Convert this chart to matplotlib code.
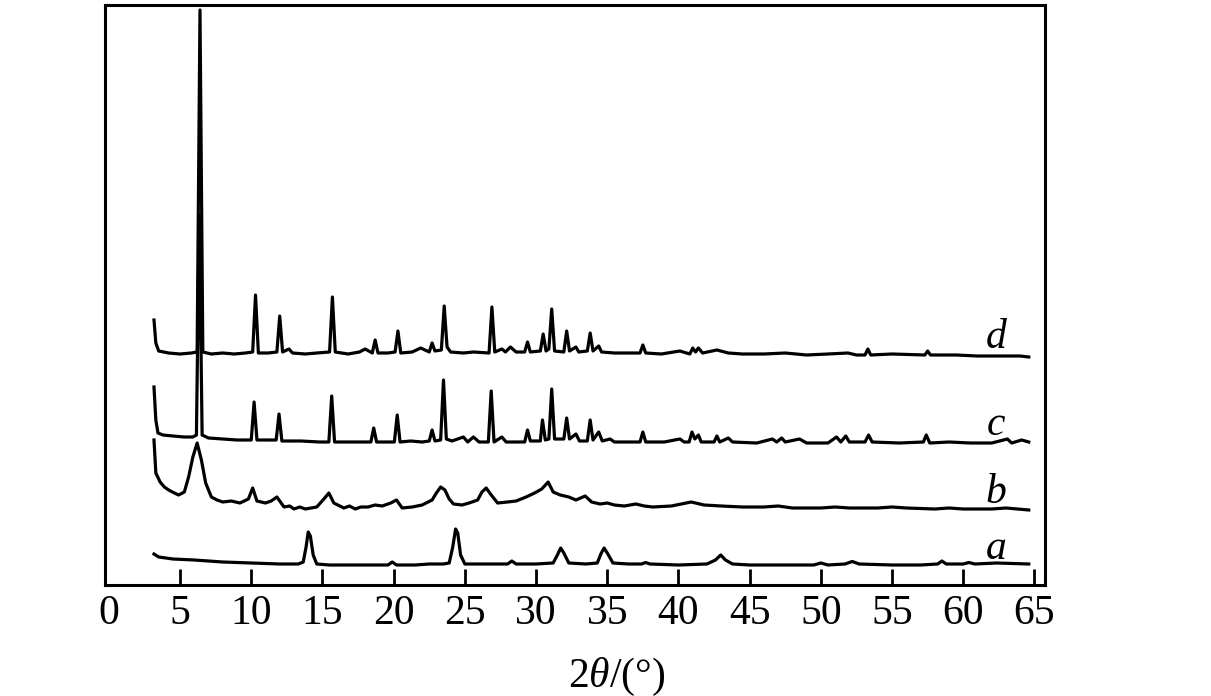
import numpy as np
import matplotlib
matplotlib.use('Agg')
import matplotlib.pyplot as plt

# 2theta (deg) and relative intensity (arbitrary units)
d_x = [3.17, 3.3, 3.5, 4.2, 5.0, 5.8, 6.2, 6.4, 6.6, 7.2, 8.0, 8.8, 9.6, 10.1, 10.3, 10.5,
       11.2, 11.8, 12.0, 12.2, 12.65, 12.9, 13.8, 14.6, 15.5, 15.7, 15.9, 16.8, 17.6, 18.0,
       18.5, 18.7, 18.9, 19.6, 20.1, 20.3, 20.5, 21.3, 21.9, 22.5, 22.7, 22.9, 23.35, 23.55,
       23.75, 24.0, 24.9, 25.6, 26.7, 26.9, 27.1, 27.6, 27.85, 28.2, 28.6, 29.2, 29.4, 29.6,
       30.3, 30.5, 30.7, 30.9, 31.1, 31.3, 31.95, 32.15, 32.35, 32.8, 33.0, 33.6, 33.8, 34.0,
       34.4, 34.6, 35.5, 36.5, 37.3, 37.5, 37.7, 38.8, 40.1, 40.8, 41.0, 41.2, 41.4, 41.7,
       42.7, 43.5, 44.5, 46.0, 47.5, 49.0, 50.5, 51.9, 52.5, 53.1, 53.3, 53.5, 55.0, 57.3, 57.5,
       57.7, 59.5, 61.0, 62.5, 64.0, 64.6]
d_y = [265, 242, 234, 232, 231, 232, 233, 575, 233, 231, 232, 231, 232, 233, 290, 232,
       232, 233, 269, 233, 236, 232, 231, 232, 233, 288, 233, 231, 233, 236,
       232, 245, 232, 232, 233, 254, 232, 233, 237, 233, 242, 234, 235, 279,
       238, 233, 232, 233, 232, 278, 233, 236, 233, 238, 233, 233, 243, 233,
       234, 251, 234, 236, 276, 234, 233, 254, 234, 238, 233, 234, 252, 234,
       239, 233, 232, 232, 232, 240, 232, 231, 234, 231, 237, 233, 237, 232,
       235, 232, 231, 231, 232, 230, 231, 232, 230, 230, 236, 230, 231, 230, 234,
       230, 230, 229, 229, 229, 228]

c_x = [3.17, 3.3, 3.45, 3.8, 4.5, 5.3, 5.9, 6.15, 6.35, 6.55, 7.0, 8.0, 9.0, 10.0, 10.2, 10.4,
       11.2, 11.75, 11.95, 12.15, 13.5, 14.8, 15.45, 15.65, 15.85, 16.7, 17.5, 18.4, 18.6, 18.8,
       19.6, 20.05, 20.25, 20.45, 21.2, 22.0, 22.5, 22.7, 22.9, 23.3, 23.5, 23.7, 24.1, 24.9,
       25.2, 25.6, 26.0, 26.65, 26.85, 27.05, 27.6, 27.9, 29.2, 29.4, 29.6, 30.3, 30.45, 30.65,
       30.9, 31.1, 31.3, 31.95, 32.15, 32.35, 32.8, 33.05, 33.6, 33.8, 34.0, 34.4, 34.65, 35.2,
       35.5, 37.3, 37.5, 37.7, 39.0, 40.1, 40.4, 40.75, 40.95, 41.15, 41.4, 41.6, 42.5, 42.7,
       42.9, 43.5, 43.8, 45.5, 46.6, 46.9, 47.25, 47.5, 48.5, 49.0, 50.5, 51.1, 51.4, 51.75,
       52.0, 53.1, 53.35, 53.6, 55.5, 57.2, 57.4, 57.65, 59.0, 60.5, 62.0, 63.1, 63.4, 64.1, 64.6]
c_y = [198, 165, 152, 150, 149, 148, 148, 150, 370, 150, 147, 146, 145, 145, 183, 145,
       145, 145, 171, 144, 144, 143, 143, 189, 143, 143, 143, 143, 157, 143,
       143, 143, 170, 143, 144, 143, 144, 155, 144, 145, 205, 146, 144, 148,
       143, 148, 143, 143, 194, 143, 148, 143, 143, 155, 144, 144, 165, 145,
       146, 196, 146, 146, 167, 146, 151, 144, 144, 165, 145, 153, 144, 146,
       143, 143, 153, 143, 143, 146, 143, 143, 153, 146, 150, 143, 143, 149,
       143, 147, 143, 142, 146, 143, 147, 143, 146, 142, 142, 148, 143, 149,
       143, 143, 150, 143, 142, 143, 150, 142, 143, 142, 142, 146, 142, 145, 143]

b_x = [3.17, 3.3, 3.6, 3.9, 4.2, 4.6, 4.9, 5.3, 5.6, 5.9, 6.2, 6.5, 6.8, 7.2, 7.6, 8.0, 8.6,
       9.2, 9.8, 10.1, 10.4, 11.0, 11.4, 11.8, 12.3, 12.7, 13.0, 13.4, 13.8, 14.2, 14.6, 15.1,
       15.45, 15.8, 16.5, 16.9, 17.3, 17.7, 18.2, 18.7, 19.2, 19.8, 20.2, 20.6, 21.3, 22.0,
       22.7, 23.0, 23.3, 23.6, 23.9, 24.2, 24.8, 25.3, 25.9, 26.2, 26.5, 26.8, 27.3, 28.0,
       28.6, 29.3, 29.9, 30.4, 30.85, 31.2, 31.7, 32.3, 32.8, 33.45, 33.9, 34.5, 35.0, 35.5,
       36.2, 37.0, 37.6, 38.2, 39.5, 40.2, 40.9, 41.8, 43.0, 44.5, 46.0, 47.0, 48.0, 50.0,
       51.0, 52.0, 54.0, 55.0, 56.0, 58.0, 59.0, 60.0, 62.0, 63.0, 64.6]
b_y = [145, 112, 103, 98, 95, 92, 90, 93, 108, 128, 142, 125, 102, 88, 85, 83, 84,
       82, 86, 97, 84, 82, 84, 88, 78, 79, 76, 78, 76, 77, 78, 86,
       92, 82, 77, 79, 76, 78, 78, 80, 79, 82, 85, 77, 78, 80,
       85, 92, 98, 95, 86, 81, 80, 82, 85, 93, 97, 91, 82, 83,
       84, 88, 92, 96, 103, 93, 90, 88, 85, 89, 83, 81, 82, 80,
       79, 81, 79, 78, 79, 81, 83, 80, 79, 78, 78, 79, 77, 77,
       78, 77, 77, 78, 77, 76, 77, 76, 76, 77, 75]

a_x = [3.17, 3.5, 4.5, 6.0, 8.0, 10.0, 12.0, 13.3, 13.65, 13.85, 14.0, 14.15, 14.35, 14.6,
       15.5, 17.0, 19.6, 19.9, 20.2, 21.5, 22.5, 23.5, 23.9, 24.15, 24.35, 24.5, 24.7, 25.0,
       26.0, 28.0, 28.3, 28.6, 30.0, 31.2, 31.5, 31.73, 31.95, 32.3, 33.5, 34.3, 34.55, 34.78,
       35.0, 35.4, 36.5, 37.4, 37.7, 38.0, 40.0, 42.0, 42.6, 42.97, 43.3, 43.8, 45.0, 47.0,
       49.5, 50.0, 50.5, 51.7, 52.2, 52.7, 55.0, 57.0, 58.2, 58.5, 58.8, 60.0, 60.4, 60.8,
       62.35, 64.6]
a_y = [31, 28, 26, 25, 23, 22, 21, 21, 23, 38, 53, 49, 30, 21,
       20, 20, 20, 23, 20, 20, 21, 21, 22, 38, 56, 52, 30, 21,
       21, 21, 24, 21, 21, 22, 30, 37, 32, 22, 21, 22, 31, 37,
       32, 22, 21, 21, 22.5, 21, 20, 21, 25, 30, 25, 21, 20, 20,
       20, 22, 20, 21, 23.5, 21, 20, 20, 21, 24, 21, 21, 22.5, 21,
       22, 21]

labels = ['a', 'b', 'c', 'd']
label_y = [26, 82, 150, 237]
xticks = list(range(0, 70, 5))
tick_marks = list(range(5, 70, 5))

plt.rcParams['font.family'] = ['Liberation Serif', 'DejaVu Serif']
plt.rcParams['mathtext.fontset'] = 'custom'
plt.rcParams['mathtext.rm'] = 'Liberation Serif'
plt.rcParams['mathtext.it'] = 'Liberation Serif:italic'

fig = plt.figure(figsize=(12.11, 6.96), dpi=100)
ax = fig.add_axes([105 / 1211, 111 / 696, 940 / 1211, 580 / 696])

for xs, ys in [(a_x, a_y), (b_x, b_y), (c_x, c_y), (d_x, d_y)]:
    ax.plot(xs, ys, color='black', lw=2.3, solid_joinstyle='round')

for lab, ly in zip(labels, label_y):
    ax.text(62.3, ly, lab, style='italic', fontsize=30, ha='center', va='baseline')

ax.set_xlim(-0.27, 65.74)
ax.set_ylim(0, 580)
ax.set_xticks(xticks)
ax.set_xticklabels([str(t) for t in xticks])
ax.set_yticks([])
ax.tick_params(axis='x', length=0, labelsize=30, pad=7)
# inward tick marks from the bottom spine (none at 0)
ax.vlines(tick_marks, 0, 16 / 580, transform=ax.get_xaxis_transform(),
          colors='black', lw=2.0, zorder=3)
for sp in ax.spines.values():
    sp.set_linewidth(2.2)

fig.text(617 / 1211, 1 - 677 / 696, '2$\\theta$/(°)', fontsize=30, ha='center', va='center')

fig.savefig('out.png', dpi=100)
